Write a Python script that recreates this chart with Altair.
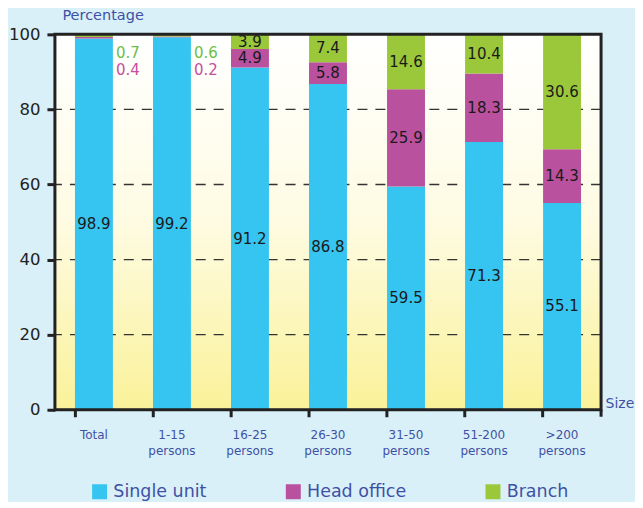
import altair as alt
import pandas as pd

categories = ["Total", "1-15\npersons", "16-25\npersons", "26-30\npersons",
              "31-50\npersons", "51-200\npersons", ">200\npersons"]
single_unit = [98.9, 99.2, 91.2, 86.8, 59.5, 71.3, 55.1]
head_office = [0.4, 0.2, 4.9, 5.8, 25.9, 18.3, 14.3]
branch = [0.7, 0.6, 3.9, 7.4, 14.6, 10.4, 30.6]
series = ["Single unit", "Head office", "Branch"]
colors = ["#36C5F0", "#B9519F", "#9BC83B"]
grid_values = [20, 40, 60, 80]

rows = []
for i, c in enumerate(categories):
    base = 0.0
    for k, (s, vals) in enumerate(zip(series, [single_unit, head_office, branch])):
        v = vals[i]
        rows.append({"cat": c, "series": s, "order": k, "value": v,
                     "y0": base, "y1": base + v, "mid": base + v / 2,
                     "label": f"{v:.1f}", "small": v < 1.0})
        base += v
df = pd.DataFrame(rows)

W, H = 547, 376
FONT = "DejaVu Sans"
TXT = "#3F51A5"

xenc = alt.X("cat:N", sort=categories, scale=alt.Scale(paddingInner=0.515, paddingOuter=0.2575),
             axis=alt.Axis(title="Size", labelExpr="split(datum.label, '\\n')",
                           labelAngle=0, labelFontSize=12, labelColor=TXT, labelFont=FONT,
                           labelPadding=13, bandPosition=0, tickSize=7, tickWidth=3,
                           tickColor="#222", domain=False, grid=False, labelLineHeight=16,
                           titleX=W + 4, titleY=-6, titleAlign="left", titleBaseline="middle",
                           titleFontSize=14, titleFontWeight="normal", titleColor=TXT, titleFont=FONT))
yscale = alt.Scale(domain=[0, 100])

bg = alt.Chart(alt.Data(values=[{}])).mark_rect(
    color=alt.Gradient(gradient="linear",
                       stops=[alt.GradientStop(color="#FFFFFF", offset=0),
                              alt.GradientStop(color="#FEFBE2", offset=0.5),
                              alt.GradientStop(color="#FAF299", offset=1)],
                       x1=0, x2=0, y1=0, y2=1)
).encode(x=alt.value(0), x2=alt.value(W), y=alt.value(0), y2=alt.value(H))

grid = alt.Chart(pd.DataFrame({"g": grid_values})).mark_rule(
    color="#333", strokeDash=[10, 8], strokeWidth=1.3
).encode(y=alt.Y("g:Q", scale=yscale))

bars = alt.Chart(df).mark_bar(size=38).encode(
    x=xenc,
    y=alt.Y("y0:Q", scale=yscale,
            axis=alt.Axis(title="Percentage", values=[0, 20, 40, 60, 80, 100], grid=False,
                          domain=False, tickSize=8, tickWidth=3, tickColor="#222",
                          labelFontSize=16.5, labelColor="#222", labelFont=FONT, labelPadding=7,
                          titleAngle=0, titleX=7, titleY=-19, titleAlign="left",
                          titleBaseline="middle", titleFontSize=14.5, titleFontWeight="normal",
                          titleColor=TXT, titleFont=FONT)),
    y2="y1:Q",
    color=alt.Color("series:N", scale=alt.Scale(domain=series, range=colors),
                    legend=alt.Legend(title=None, orient="none", legendX=36, legendY=449,
                                      direction="horizontal", columns=3, gridAlign="each",
                                      columnPadding=78, symbolType="square", symbolSize=225,
                                      symbolStrokeWidth=0, labelFontSize=17.5, labelColor=TXT,
                                      labelFont=FONT, labelOffset=5)),
    order="order:Q",
)

labels_in = alt.Chart(df).transform_filter("!datum.small").mark_text(
    fontSize=15, font=FONT, color="#1a1a1a", baseline="middle"
).encode(x=alt.X("cat:N", sort=categories), y=alt.Y("mid:Q", scale=yscale), text="label:N")

small_br = alt.Chart(df).transform_filter("datum.small && datum.series == 'Branch'").mark_text(
    fontSize=15, font=FONT, baseline="middle", dx=34, color="#6DBE45"
).encode(x=alt.X("cat:N", sort=categories), y=alt.value(19), text="label:N")
small_ho = alt.Chart(df).transform_filter("datum.small && datum.series == 'Head office'").mark_text(
    fontSize=15, font=FONT, baseline="middle", dx=34, color="#C64FA0"
).encode(x=alt.X("cat:N", sort=categories), y=alt.value(36), text="label:N")

frame = alt.Chart(alt.Data(values=[{}])).mark_rect(
    fill=None, stroke="#222", strokeWidth=3
).encode(x=alt.value(0), x2=alt.value(W), y=alt.value(0), y2=alt.value(H))

end_tick = alt.Chart(alt.Data(values=[{}])).mark_rule(color="#222", strokeWidth=3).encode(
    x=alt.value(W), y=alt.value(H), y2=alt.value(H + 7))

chart = alt.layer(bg, grid, bars, labels_in, small_br, small_ho, frame, end_tick).properties(
    width=W, height=H,
    autosize=alt.AutoSizeParams(type="none"),
    padding={"left": 47, "top": 26, "right": 34, "bottom": 92},
    background="#DAF0F8",
).configure_view(stroke=None)

chart.save("out.html", embed_options={"renderer": "svg", "actions": False})
